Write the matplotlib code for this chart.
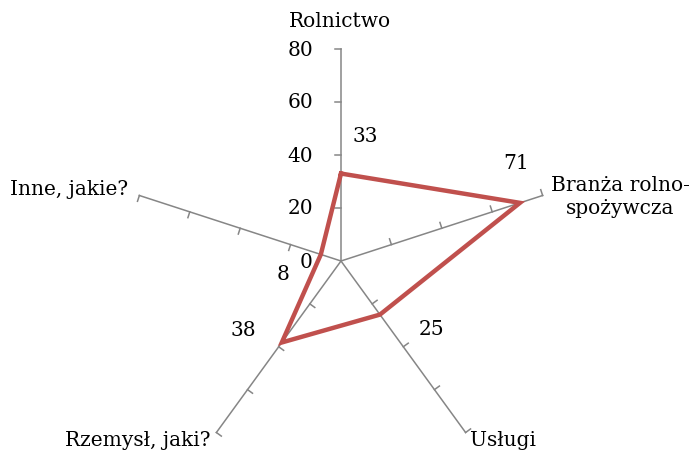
import numpy as np
import matplotlib
matplotlib.use("Agg")
from matplotlib import pyplot as plt

# Data
categories = ["Rolnictwo", "Branża rolno-\nspożywcza", "Usługi", "Rzemysł, jaki?", "Inne, jakie?"]
values = [33, 71, 25, 38, 8]
ticks = [0, 20, 40, 60, 80]

# label offsets (pixels) for value labels
value_offsets = [(24, 38), (-4, 40), (52, -14), (-38, 13), (-38, -19)]

plt.rcParams["font.family"] = ["DejaVu Serif"]
FS = 14.5
SPOKE = "#868686"
RED = "#C0504D"

fig = plt.figure(figsize=(6.92, 4.52), dpi=100)
ax = fig.add_axes([0, 0, 1, 1])
scale = 212 / 80  # px per unit
cx, cy = 341, 262
ax.set_xlim(-cx / scale, (692 - cx) / scale)
ax.set_ylim(-(452 - cy) / scale, cy / scale)
ax.axis("off")

n = len(categories)
angles = np.deg2rad(90 - 360 / n * np.arange(n))
rmax = ticks[-1]
tick_len = 2.3

for a in angles:
    ax.plot([0, rmax * np.cos(a)], [0, rmax * np.sin(a)], color=SPOKE, lw=1.1, zorder=1)
    pa = a + np.pi / 2
    for t in ticks[1:]:
        x0, y0 = t * np.cos(a), t * np.sin(a)
        ax.plot([x0, x0 + tick_len * np.cos(pa)], [y0, y0 + tick_len * np.sin(pa)],
                color=SPOKE, lw=1.1, zorder=1)

# radial tick labels
for t in ticks:
    ax.annotate(str(t), (0, t), xytext=(-28, 0), textcoords="offset pixels",
                ha="right", va="center", fontsize=FS)

# series
xs = [v * np.cos(a) for v, a in zip(values, angles)]
ys = [v * np.sin(a) for v, a in zip(values, angles)]
ax.plot(xs + xs[:1], ys + ys[:1], color=RED, lw=3.2, solid_joinstyle="miter", zorder=3)

for x, y, v, off in zip(xs, ys, values, value_offsets):
    ax.annotate(str(v), (x, y), xytext=off, textcoords="offset pixels",
                ha="center", va="center", fontsize=FS)

# category labels
cat_pos = [((-0.4, 90.6), "center", "center"),
           ((105.3, 24.5), "center", "center"),
           ((48.7, -67.2), "left", "center"),
           ((-49.4, -67.2), "right", "center"),
           ((-80.4, 27.2), "right", "center")]
for lab, (pos, ha, va) in zip(categories, cat_pos):
    ax.text(pos[0], pos[1], lab, ha=ha, va=va, fontsize=FS, linespacing=1.3)

fig.savefig("out.png", dpi=100)
